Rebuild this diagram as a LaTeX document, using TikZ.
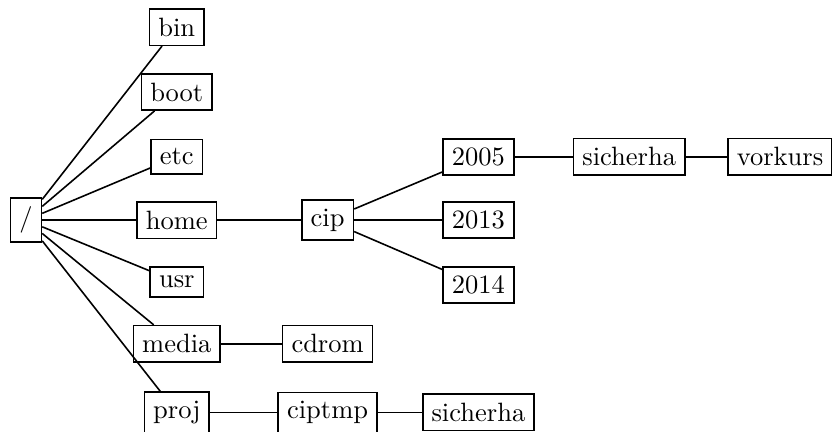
\documentclass[tikz,border=0pt]{standalone}
\usepackage{tikz}
\usetikzlibrary{shapes,arrows}

\begin{document}
\begin{tikzpicture}
\tikzstyle{verz}=[rectangle,draw,semithick]
\tikzstyle{kante}=[semithick]

\useasboundingbox (-0.345,-2.80) rectangle (10.69,2.92);

\node[verz] (root) at (0,0) {/};
\node[verz] (bin) at (2,2.56) {bin};
\node[verz] (boot) at (2,1.70) {boot};
\node[verz] (etc) at (2,0.84) {etc};
\node[verz] (home) at (2,0) {home};
\node[verz] (usr) at (2,-0.82) {usr};
\node[verz] (media) at (2,-1.64) {media};
\node[verz] (proj) at (2,-2.55) {proj};

\node[verz] (cip) at (4,0) {cip};
\node[verz] (j2005) at (6,0.84) {2005};
\node[verz] (j2013) at (6,0) {2013};
\node[verz] (j2014) at (6,-0.86) {2014};
\node[verz] (sich) at (8,0.84) {sicherha};
\node[verz] (vorkurs) at (10,0.84) {vorkurs};

\node[verz] (cdrom) at (4,-1.64) {cdrom};
\node[verz] (ciptmp) at (4,-2.55) {ciptmp};
\node[verz] (sichtmp) at (6,-2.55) {sicherha};

\draw[kante] (root) -- (bin);
\draw[kante] (root) -- (boot);
\draw[kante] (root) -- (etc);
\draw[kante] (root) -- (home);
\draw[kante] (root) -- (usr);
\draw[kante] (root) -- (media);
\draw[kante] (root) -- (proj);
\draw[kante] (home) -- (cip);
\draw[kante] (cip) -- (j2005);
\draw[kante] (cip) -- (j2013);
\draw[kante] (cip) -- (j2014);
\draw[kante] (j2005) -- (sich);
\draw[kante] (sich) -- (vorkurs);
\draw[kante] (media) -- (cdrom);
\draw[kante] (proj) -- (ciptmp);
\draw[kante] (ciptmp) -- (sichtmp);

\end{tikzpicture}
\end{document}
